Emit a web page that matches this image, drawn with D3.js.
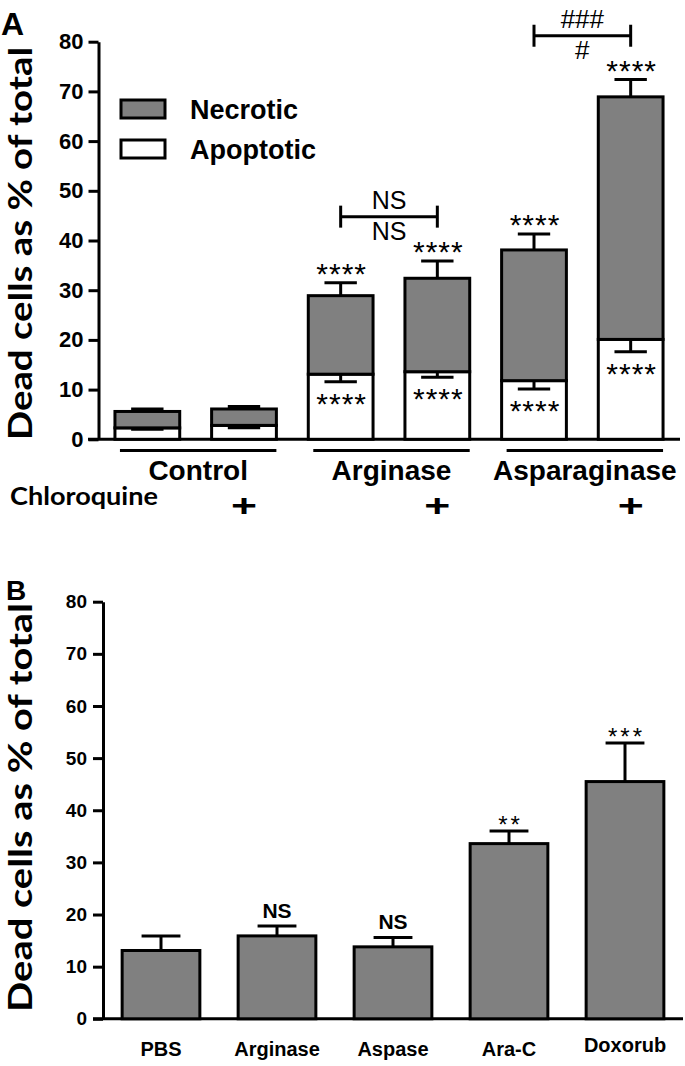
<!DOCTYPE html>
<html><head><meta charset="utf-8">
<script src="https://cdn.jsdelivr.net/npm/d3@7"></script>
<style>body{margin:0;background:#fff}svg{display:block}</style>
</head><body>
<svg id="c" width="685" height="1066"></svg>
<script>
// ---------- Panel A data ----------
const categoriesA = ["Control", "Control + CQ", "Arginase", "Arginase + CQ", "Asparaginase", "Asparaginase + CQ"];
const apoptoticA = [2.3, 2.8, 13.1, 13.6, 11.8, 20.1];
const apoptoticErrA = [0.3, 0.5, 1.5, 1.1, 1.7, 2.5];
const necroticA = [3.3, 3.3, 15.8, 18.8, 26.3, 48.8];
const necroticErrA = [0.5, 0.5, 2.6, 3.5, 3.2, 3.5];
const topSigA = ["", "", "****", "****", "****", "****"];
const bottomSigA = ["", "", "****", "****", "****", "****"];
const groupsA = ["Control", "Arginase", "Asparaginase"];
const chloroquineA = ["", "+", "", "+", "", "+"];
const ticksA = [0, 10, 20, 30, 40, 50, 60, 70, 80];
const legendA = ["Necrotic", "Apoptotic"];

// ---------- Panel B data ----------
const categoriesB = ["PBS", "Arginase", "Aspase", "Ara-C", "Doxorub"];
const valuesB = [13.1, 15.9, 13.8, 33.6, 45.5];
const errB = [2.8, 1.9, 1.8, 2.4, 7.4];
const sigB = ["", "NS", "NS", "**", "***"];
const ticksB = [0, 10, 20, 30, 40, 50, 60, 70, 80];

const FA = "'Liberation Sans', Arial, sans-serif";
const FC = "Lato, 'Open Sans', sans-serif";
const GRAY = "#808080";
const SW = 3;

const svg = d3.select("#c");

function errBar(g, cx, y0, y1, half) {
  g.append("line").attr("x1", cx).attr("x2", cx).attr("y1", y0).attr("y2", y1)
    .attr("stroke", "#000").attr("stroke-width", SW);
  g.append("line").attr("x1", cx - half).attr("x2", cx + half).attr("y1", y1).attr("y2", y1)
    .attr("stroke", "#000").attr("stroke-width", SW);
}

// ================= PANEL A =================
const yA = d3.scaleLinear().domain([0, 80]).range([439.3, 41.7]);
const xA = d3.scaleBand().domain(categoriesA).range([99, 679]).paddingInner(0.33).paddingOuter(0.165);

const rowsA = categoriesA.map((c, i) => ({ cat: c, apoptotic: apoptoticA[i], necrotic: necroticA[i] }));
const stackA = d3.stack().keys(["apoptotic", "necrotic"])(rowsA);

const gA = svg.append("g");
gA.append("line").attr("x1", 88).attr("x2", xA.range()[1] + 1)
  .attr("y1", yA(0)).attr("y2", yA(0)).attr("stroke", "#000").attr("stroke-width", SW);

stackA.forEach(layer => {
  gA.append("g").selectAll("rect").data(layer).join("rect")
    .attr("x", d => xA(d.data.cat))
    .attr("width", xA.bandwidth())
    .attr("y", d => yA(d[1]))
    .attr("height", d => yA(d[0]) - yA(d[1]))
    .attr("fill", layer.key === "necrotic" ? GRAY : "#fff")
    .attr("stroke", "#000").attr("stroke-width", SW);
});

const halfA = xA.bandwidth() / 4;
const ASTA = 30;
categoriesA.forEach((c, i) => {
  const cx = xA(c) + xA.bandwidth() / 2;
  const tot = apoptoticA[i] + necroticA[i];
  errBar(gA, cx, yA(tot), yA(tot + necroticErrA[i]), halfA);
  errBar(gA, cx, yA(apoptoticA[i]), yA(apoptoticA[i] - apoptoticErrA[i]), halfA);
  if (topSigA[i]) {
    gA.append("text").attr("x", cx + 1).attr("y", yA(tot + necroticErrA[i]) - 16 + 0.575 * ASTA)
      .attr("text-anchor", "middle").attr("font-family", FA).attr("font-size", ASTA)
      .attr("letter-spacing", 1).text(topSigA[i]);
  }
  if (bottomSigA[i]) {
    gA.append("text").attr("x", cx + 1).attr("y", yA(apoptoticA[i] - apoptoticErrA[i]) + 15 + 0.575 * ASTA)
      .attr("text-anchor", "middle").attr("font-family", FA).attr("font-size", ASTA)
      .attr("letter-spacing", 1).text(bottomSigA[i]);
  }
  if (chloroquineA[i]) {
    gA.append("text").attr("x", cx).attr("y", 515.5)
      .attr("text-anchor", "middle").attr("font-family", FA).attr("font-size", 32)
      .attr("font-weight", "bold").attr("textLength", 26).attr("lengthAdjust", "spacingAndGlyphs")
      .text(chloroquineA[i]);
  }
});

const axA = gA.append("g").attr("transform", "translate(98.5,0)")
  .call(d3.axisLeft(yA).tickValues(ticksA).tickSize(10).tickPadding(5).tickSizeOuter(0));
axA.select(".domain").attr("stroke-width", SW);
axA.selectAll(".tick line").attr("stroke-width", SW);
axA.selectAll(".tick text").attr("font-family", FA).attr("font-weight", "bold")
  .attr("font-size", 22).attr("fill", "#000");

groupsA.forEach((g, k) => {
  const c1 = categoriesA[2 * k], c2 = categoriesA[2 * k + 1];
  const x1 = xA(c1) + 5, x2 = xA(c2) + xA.bandwidth();
  gA.append("line").attr("x1", x1).attr("x2", x2).attr("y1", 450.5).attr("y2", 450.5)
    .attr("stroke", "#000").attr("stroke-width", SW);
  gA.append("text").attr("x", (x1 + x2) / 2).attr("y", 480)
    .attr("text-anchor", "middle").attr("font-family", FA).attr("font-weight", "bold")
    .attr("font-size", 28).text(g);
});
gA.append("text").attr("x", 10).attr("y", 505).attr("font-family", FC).attr("font-weight", "bold")
  .attr("font-size", 25).attr("textLength", 148).attr("lengthAdjust", "spacingAndGlyphs").text("Chloroquine");

function bracket(g, i1, i2, val, above, below, fs) {
  const xa = xA(categoriesA[i1]) + xA.bandwidth() / 2;
  const xb = xA(categoriesA[i2]) + xA.bandwidth() / 2;
  const y = yA(val);
  g.append("line").attr("x1", xa).attr("x2", xb).attr("y1", y).attr("y2", y).attr("stroke", "#000").attr("stroke-width", SW);
  [xa, xb].forEach(x => g.append("line").attr("x1", x).attr("x2", x).attr("y1", y - 11).attr("y2", y + 11).attr("stroke", "#000").attr("stroke-width", SW));
  g.append("text").attr("x", (xa + xb) / 2).attr("y", y - 8).attr("text-anchor", "middle")
    .attr("font-family", FA).attr("font-size", fs).text(above);
  g.append("text").attr("x", (xa + xb) / 2).attr("y", y + 23).attr("text-anchor", "middle")
    .attr("font-family", FA).attr("font-size", fs).text(below);
}
bracket(gA, 2, 3, 44.8, "NS", "NS", 25);
bracket(gA, 4, 5, 81.2, "###", "#", 26);

legendA.forEach((l, k) => {
  const y = 100 + k * 40;
  gA.append("rect").attr("x", 121).attr("y", y).attr("width", 44).attr("height", 18)
    .attr("fill", k === 0 ? GRAY : "#fff").attr("stroke", "#000").attr("stroke-width", SW);
  gA.append("text").attr("x", 190).attr("y", y + 19).attr("font-family", FA).attr("font-weight", "bold")
    .attr("font-size", 27).text(l);
});

gA.append("text").attr("transform", "translate(32,243.5) rotate(-90)").attr("text-anchor", "middle")
  .attr("font-family", FC).attr("font-weight", "bold").attr("font-size", 33)
  .attr("textLength", 393).attr("lengthAdjust", "spacingAndGlyphs").text("Dead cells as % of total");
gA.append("text").attr("x", 1).attr("y", 35).attr("font-family", FA).attr("font-weight", "bold")
  .attr("font-size", 32).text("A");

// ================= PANEL B =================
const yB = d3.scaleLinear().domain([0, 80]).range([1018.8, 601.7]);
const xB = d3.scaleBand().domain(categoriesB).range([103, 683]).paddingInner(0.33).paddingOuter(0.165);
const gB = svg.append("g");

gB.append("line").attr("x1", 93).attr("x2", 683).attr("y1", yB(0)).attr("y2", yB(0))
  .attr("stroke", "#000").attr("stroke-width", SW);

gB.append("g").selectAll("rect").data(categoriesB).join("rect")
  .attr("x", d => xB(d)).attr("width", xB.bandwidth())
  .attr("y", (d, i) => yB(valuesB[i])).attr("height", (d, i) => yB(0) - yB(valuesB[i]))
  .attr("fill", GRAY).attr("stroke", "#000").attr("stroke-width", SW);

const halfB = xB.bandwidth() / 4;
const ASTB = 24;
categoriesB.forEach((c, i) => {
  const cx = xB(c) + xB.bandwidth() / 2;
  const yc = yB(valuesB[i] + errB[i]);
  errBar(gB, cx, yB(valuesB[i]), yc, halfB);
  const s = sigB[i];
  if (s === "NS") {
    gB.append("text").attr("x", cx).attr("y", yc - 15.5 + 7.5).attr("text-anchor", "middle")
      .attr("font-family", FA).attr("font-weight", "bold").attr("font-size", 21).text(s);
  } else if (s) {
    gB.append("text").attr("x", cx + 1.5).attr("y", yc - 11.5 + 0.575 * ASTB).attr("text-anchor", "middle")
      .attr("font-family", FA).attr("font-size", ASTB).attr("letter-spacing", 3).text(s);
  }
  gB.append("text").attr("x", cx).attr("y", i === categoriesB.length - 1 ? 1051.5 : 1055.5)
    .attr("text-anchor", "middle").attr("font-family", FA).attr("font-weight", "bold")
    .attr("font-size", 20).text(c);
});

const axB = gB.append("g").attr("transform", "translate(103,0)")
  .call(d3.axisLeft(yB).tickValues(ticksB).tickSize(10).tickPadding(6).tickSizeOuter(0));
axB.select(".domain").attr("stroke-width", SW);
axB.selectAll(".tick line").attr("stroke-width", SW);
axB.selectAll(".tick text").attr("font-family", FA).attr("font-weight", "bold")
  .attr("font-size", 19).attr("fill", "#000");

gB.append("text").attr("transform", "translate(32,807.5) rotate(-90)").attr("text-anchor", "middle")
  .attr("font-family", FC).attr("font-weight", "bold").attr("font-size", 33)
  .attr("textLength", 409).attr("lengthAdjust", "spacingAndGlyphs").text("Dead cells as % of total");
gB.append("text").attr("x", 6).attr("y", 600).attr("font-family", FA).attr("font-weight", "bold")
  .attr("font-size", 28).text("B");
</script>
</body></html>
